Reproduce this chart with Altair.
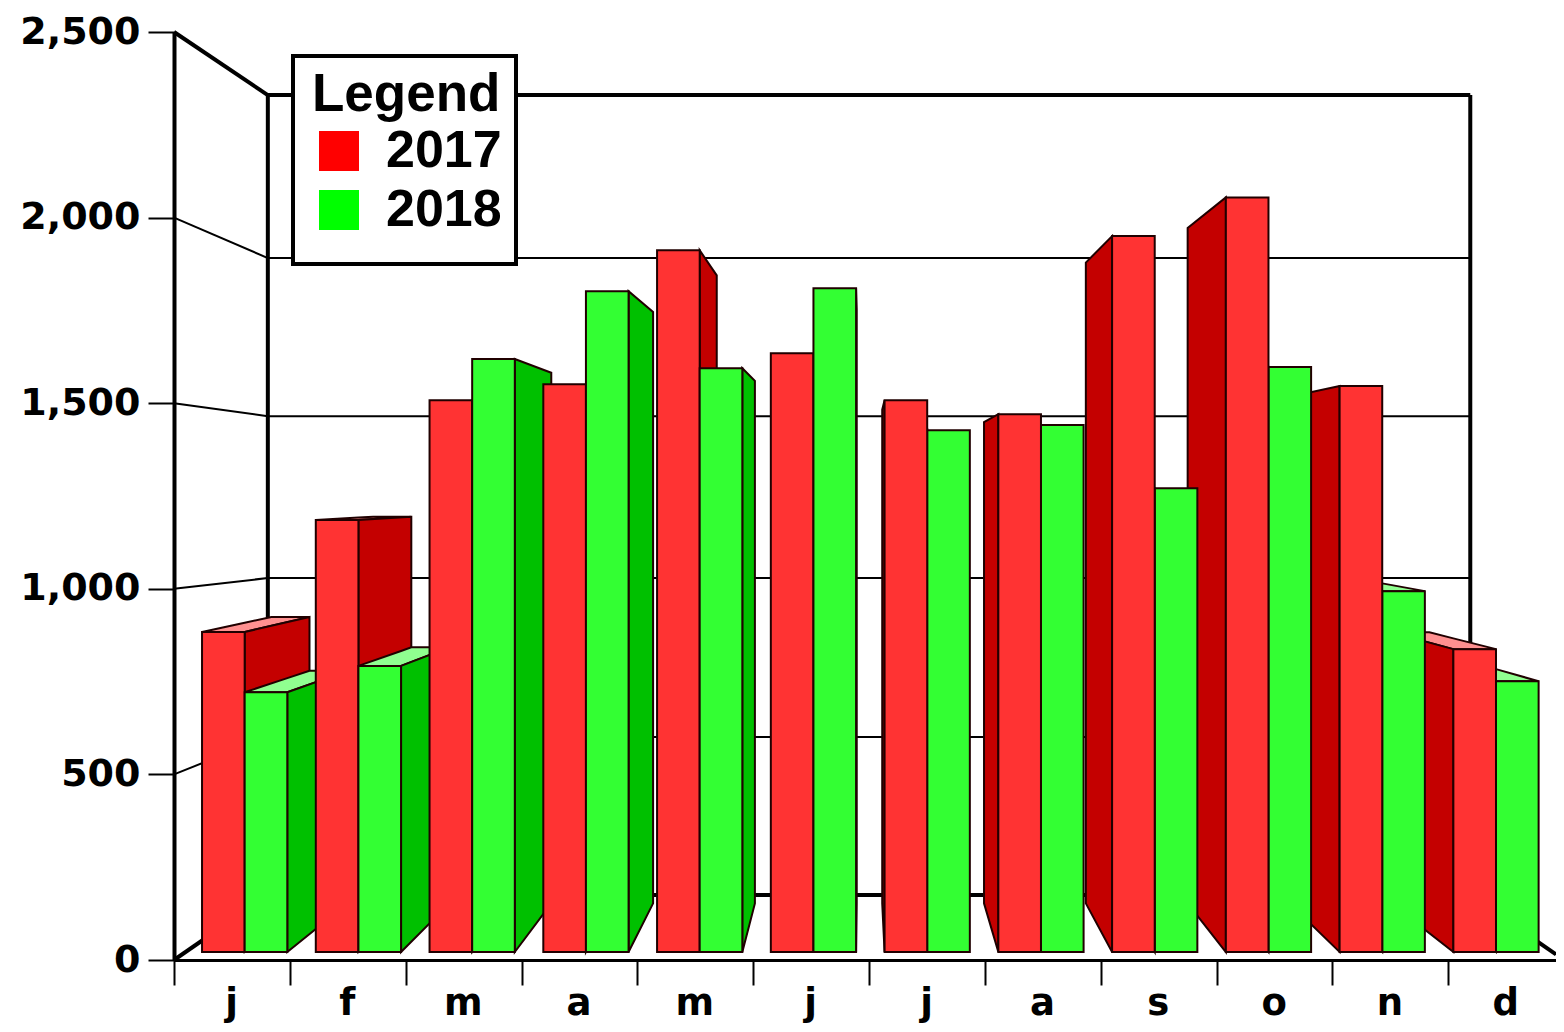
import altair as alt
import pandas as pd

months = ["j", "f", "m", "a", "m", "j", "j", "a", "s", "o", "n", "d"]
values_2017 = [877, 1184, 1512, 1556, 1923, 1641, 1512, 1474, 1962, 2068, 1551, 830]
values_2018 = [712, 784, 1625, 1811, 1600, 1819, 1430, 1444, 1271, 1603, 989, 742]
y_ticks = [0, 500, 1000, 1500, 2000, 2500]
back_levels = [175, 601, 1029, 1465, 1891, 2330]

# projection settings, in month / value units
BACK_L, BACK_R = 0.81, 11.19
X_MAX = 11.93
VX, VY, K = 5.94, 1269, 0.105
BAR0, STEP, BAR_W, BASE, VSCALE = 0.242, 0.982, 0.368, 21.55, 0.983


def slices(poly):
    """Turn a convex polygon into vertical (x, low, high) slices for an area mark."""
    rows = []
    n = len(poly)
    for x in sorted({p[0] for p in poly}):
        ys = []
        for i in range(n):
            (xa, ya), (xb, yb) = poly[i], poly[(i + 1) % n]
            if min(xa, xb) <= x <= max(xa, xb):
                if xa == xb:
                    ys += [ya, yb]
                else:
                    ys.append(ya + (yb - ya) * (x - xa) / (xb - xa))
        rows.append((x, min(ys), max(ys)))
    return rows


def back(x, u):
    return x + (VX - x) * K, u + (VY - u) * K


rows = []
face_no = [0]


def add_face(kind, poly):
    face_no[0] += 1
    for x, lo, hi in slices(poly):
        rows.append({"face": face_no[0], "kind": kind, "x": x, "y": lo, "y2": hi})


def add_bar(month, series, value):
    x0 = BAR0 + month * STEP + (0 if series == "2017" else BAR_W)
    x1 = x0 + BAR_W
    top = BASE + value * VSCALE
    if top < VY:
        a, b = back(x0, top), back(x1, top)
        add_face(series + " top", [(x0, top), (x1, top), b, a])
    edge = x1 if x1 < VX else (x0 if x0 > VX else None)
    if edge is not None:
        t, f = back(edge, top), back(edge, BASE)
        add_face(series + " side", [(edge, BASE), (edge, top), t, f])
    add_face(series + " front", [(x0, BASE), (x1, BASE), (x1, top), (x0, top)])


for m in range(6):
    add_bar(m, "2017", values_2017[m])
    add_bar(m, "2018", values_2018[m])
for m in range(11, 5, -1):
    add_bar(m, "2018", values_2018[m])
    add_bar(m, "2017", values_2017[m])

faces = pd.DataFrame(rows)

thin = []
for front, rear in zip(y_ticks[1:-1], back_levels[1:-1]):
    thin.append({"x": 0, "x2": BACK_L, "y": front, "y2": rear})
    thin.append({"x": BACK_L, "x2": BACK_R, "y": rear, "y2": rear})
thick = [
    {"x": 0, "x2": BACK_L, "y": 2500, "y2": back_levels[-1]},
    {"x": 0, "x2": BACK_L, "y": 0, "y2": back_levels[0]},
    {"x": BACK_R, "x2": X_MAX, "y": back_levels[0], "y2": 15},
    {"x": BACK_L, "x2": BACK_R, "y": back_levels[-1], "y2": back_levels[-1]},
    {"x": BACK_L, "x2": BACK_R, "y": back_levels[0], "y2": back_levels[0]},
    {"x": BACK_L, "x2": BACK_L, "y": back_levels[0], "y2": back_levels[-1]},
    {"x": BACK_R, "x2": BACK_R, "y": back_levels[0], "y2": back_levels[-1]},
]

x_scale = alt.Scale(domain=[0, X_MAX], nice=False, zero=False)
y_scale = alt.Scale(domain=[0, 2500], nice=False)
label_font = "DejaVu Sans"
legend_font = "Liberation Sans"
month_expr = "[" + ",".join(f"'{m}'" for m in months) + "][datum.value]"

x_axis = alt.Axis(
    values=list(range(12)),
    labelExpr=month_expr,
    labelOffset=57,
    labelFont=label_font,
    labelFontSize=37,
    labelFontWeight="bold",
    labelColor="black",
    labelPadding=0,
    labelFlush=False,
    labelOverlap=False,
    labelBound=False,
    labelAngle=0,
    tickSize=25,
    tickWidth=2,
    tickColor="black",
    domainColor="black",
    domainWidth=3,
    grid=False,
    title=None,
)
y_axis = alt.Axis(
    values=y_ticks,
    format=",.0f",
    labelFont=label_font,
    labelFontSize=38,
    labelFontWeight="bold",
    labelColor="black",
    labelPadding=8,
    labelOverlap=False,
    labelBound=False,
    labelFlush=False,
    tickSize=26,
    tickWidth=2,
    tickColor="black",
    domainColor="black",
    domainWidth=4,
    grid=False,
    title=None,
)


def wall_layer(data, width):
    return alt.Chart(pd.DataFrame(data)).mark_rule(color="black", strokeWidth=width).encode(
        x=alt.X("x:Q", scale=x_scale, axis=x_axis),
        x2="x2:Q",
        y=alt.Y("y:Q", scale=y_scale, axis=y_axis),
        y2="y2:Q",
    )


thin_layer = wall_layer(thin, 2)
thick_layer = wall_layer(thick, 4)

legend_box = alt.Chart(pd.DataFrame({"k": [0]})).mark_rect(
    fill="white", stroke="black", strokeWidth=4
).encode(
    x=alt.value(119),
    x2=alt.value(342),
    y=alt.value(24),
    y2=alt.value(232),
)

kinds = [
    "2017", "2018",
    "2017 front", "2017 side", "2017 top",
    "2018 front", "2018 side", "2018 top",
]
kind_colors = [
    "#ff0000", "#00ff00",
    "#ff3333", "#c40000", "#ff9090",
    "#33ff33", "#00c000", "#90ff90",
]

bars = alt.Chart(faces).mark_area(
    stroke="#200000", strokeWidth=2, opacity=1, strokeJoin="miter", interpolate="linear"
).encode(
    x=alt.X("x:Q", scale=x_scale, axis=x_axis),
    y=alt.Y("y:Q", scale=y_scale, axis=y_axis),
    y2="y2:Q",
    detail="face:N",
    color=alt.Color(
        "kind:N",
        scale=alt.Scale(domain=kinds, range=kind_colors),
        legend=alt.Legend(
            values=["2017", "2018"],
            title="Legend",
            orient="none",
            legendX=138,
            legendY=37,
            padding=0,
            titleFont=legend_font,
            titleFontSize=53,
            titleFontWeight="bold",
            titleColor="black",
            titlePadding=3,
            titleLimit=400,
            labelFont=legend_font,
            labelFontSize=52,
            labelFontWeight="bold",
            labelColor="black",
            labelOffset=21,
            labelLimit=300,
            symbolType="square",
            symbolSize=1600,
            symbolStrokeWidth=0,
            symbolOffset=1,
            rowPadding=7,
        ),
    ),
)

chart = alt.layer(
    thin_layer, thick_layer, legend_box, bars
).resolve_scale(x="shared", y="shared").properties(
    width=1382,
    height=928,
    padding={"left": 166, "top": 24, "right": 0, "bottom": 64},
    autosize="none",
    background="white",
).configure_view(stroke="transparent", strokeWidth=0)

chart.save("out.html", embed_options={"renderer": "svg", "actions": False})
